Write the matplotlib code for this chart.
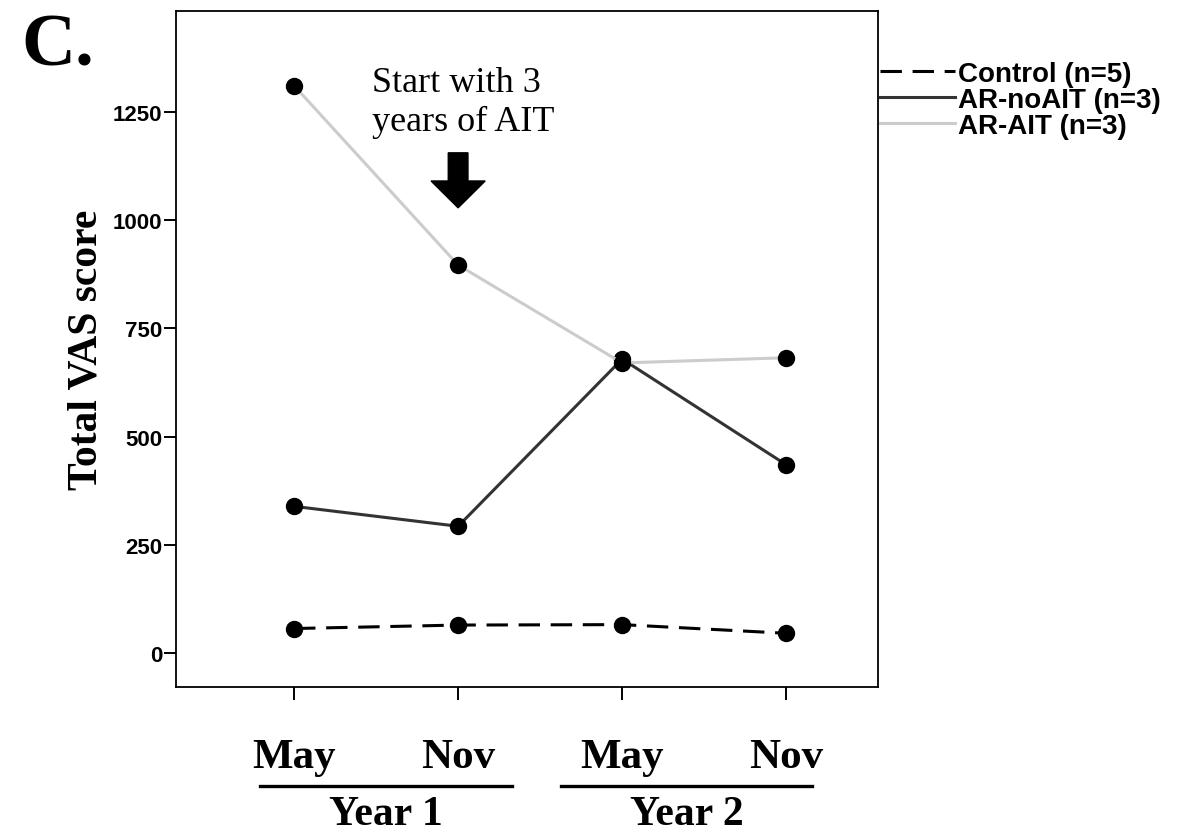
"""Total VAS score over two pollen seasons, panel C."""

import matplotlib

matplotlib.use("Agg")
import matplotlib.pyplot as plt
from matplotlib.patches import FancyArrow
from matplotlib.transforms import blended_transform_factory

SANS = ["Liberation Sans", "DejaVu Sans"]
SERIF = ["Liberation Serif", "DejaVu Serif"]

# data
time_points = [1, 2, 3, 4]
month_labels = ["May", "Nov", "May", "Nov"]
year_labels = ["Year 1", "Year 2"]
control = [57, 65, 66, 46]
ar_noait = [339, 293, 679, 435]
ar_ait = [1310, 896, 670, 682]
y_ticks = [0, 250, 500, 750, 1000, 1250]

fig = plt.figure(figsize=(11.93, 8.37), dpi=100)
ax = fig.add_axes([0.1475, 0.178, 0.5885, 0.808])

marker_kw = dict(marker="o", markersize=11.5, markerfacecolor="black",
                 markeredgecolor="black", zorder=3)
ax.plot(time_points, control, color="black", linewidth=2.2,
        dashes=(7, 3.5), label="Control (n=5)", **marker_kw)
ax.plot(time_points, ar_noait, color="#333333", linewidth=2.2,
        label="AR-noAIT (n=3)", **marker_kw)
ax.plot(time_points, ar_ait, color="#cccccc", linewidth=2.2,
        label="AR-AIT (n=3)", **marker_kw)

ax.set_xlim(0.28, 4.56)
ax.set_ylim(-78, 1483)
ax.set_yticks(y_ticks)
ax.set_yticklabels([str(v) for v in y_ticks], fontfamily=SANS,
                   fontweight="bold", fontsize=16)
ax.set_xticks(time_points)
ax.set_xticklabels(month_labels, fontfamily=SERIF, fontweight="bold",
                   fontsize=31)
ax.tick_params(axis="both", direction="out", length=9, width=1.4)
ax.tick_params(axis="x", pad=28)
ax.tick_params(axis="y", pad=1)
for spine in ax.spines.values():
    spine.set_linewidth(1.3)

ax.set_ylabel("Total VAS score", fontfamily=SERIF, fontweight="bold",
              fontsize=30, labelpad=5)

# start of treatment marker
ax.add_patch(FancyArrow(2, 1155, 0, -127, width=0.12, head_width=0.33,
                        head_length=62, length_includes_head=True,
                        color="black", zorder=4))
ax.text(1.475, 1207, "Start with 3\nyears of AIT", fontfamily=SERIF,
        fontsize=26, ha="left", va="baseline", linespacing=1.25)

# year brackets under the month labels
trans = blended_transform_factory(ax.transData, ax.transAxes)
year_spans = [(0.79, 2.33), (2.63, 4.16)]
for (x0, x1), label in zip(year_spans, year_labels):
    ax.plot([x0, x1], [-0.146, -0.146], color="black", linewidth=2.4,
            transform=trans, clip_on=False)
    ax.text((x0 + x1) / 2, -0.203, label, transform=trans, ha="center",
            va="baseline", fontfamily=SERIF, fontweight="bold", fontsize=30)

fig.text(0.018, 0.922, "C.", fontfamily=SERIF, fontweight="bold",
         fontsize=54, ha="left", va="baseline")

fig.legend(loc="upper left", bbox_to_anchor=(0.7375, 0.926), frameon=False,
           borderpad=0, borderaxespad=0, handlelength=2.7,
           handletextpad=0.1, labelspacing=0.0,
           prop=dict(family=SANS, weight="bold", size=20))
for handle in fig.legends[0].get_lines():
    handle.set_marker("")

fig.savefig("out.png", dpi=100)
